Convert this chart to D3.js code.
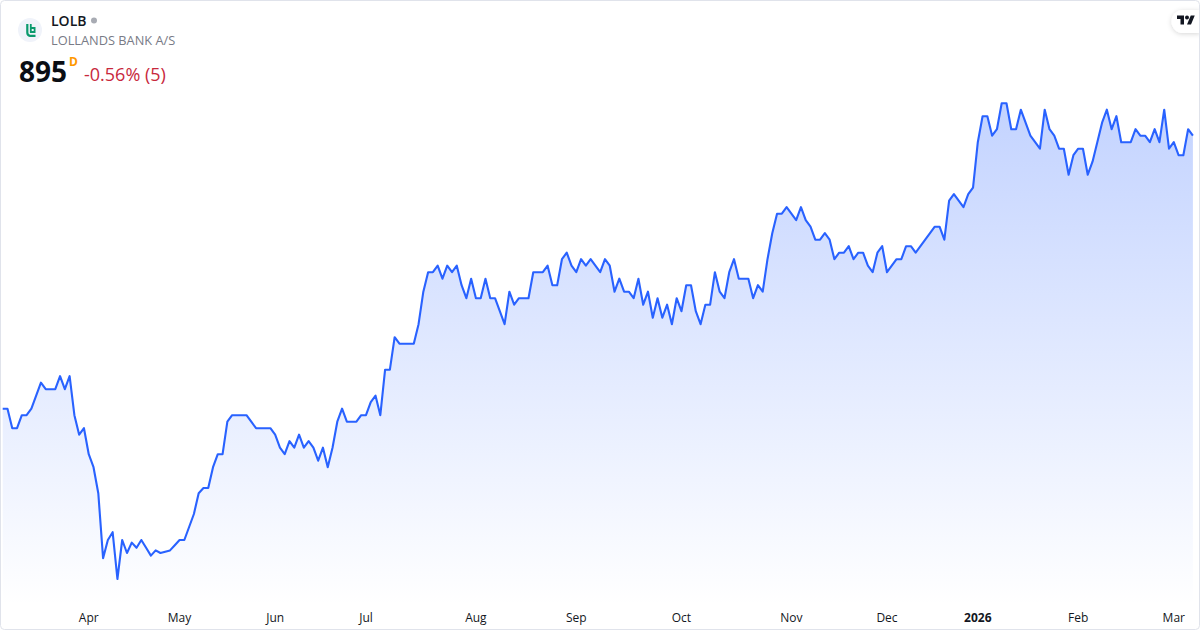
<!DOCTYPE html>
<html>
<head>
<meta charset="utf-8">
<script src="https://cdn.jsdelivr.net/npm/d3@7"></script>
<style>
html,body{margin:0;padding:0;background:#fff;overflow:hidden}
svg{display:block;font-family:"Open Sans",sans-serif}
</style>
</head>
<body>
<svg id="c" width="1200" height="630"></svg>
<script>
const prices = [
685,685,670,670,680,680,685,695,705,700,700,700,710,700,710,680,665,670,650,640,
620,570,584,590,554,584,574,582,578,584,578,572,576,574,575,576,580,584,584,594,
604,620,624,624,640,650,650,675,680,680,680,680,675,670,670,670,670,665,655,650,
660,655,665,655,660,655,645,655,640,655,675,685,675,675,675,680,680,690,695,680,
715,715,740,735,735,735,735,750,775,790,790,795,785,795,790,795,780,770,785,770,
770,785,770,770,760,750,775,765,770,770,770,790,790,790,795,780,780,800,805,795,
790,800,795,800,795,790,800,795,775,785,775,775,770,785,765,775,755,770,755,765,
750,770,760,780,780,760,750,765,765,790,775,770,790,800,785,785,785,770,780,775,
800,820,835,835,840,835,830,840,830,825,815,815,820,815,800,805,805,810,800,805,
805,795,790,805,810,790,795,800,800,810,810,805,810,815,820,825,825,815,845,850,
845,840,850,855,890,910,910,895,900,920,920,900,900,915,905,895,890,885,915,900,
895,885,885,865,880,885,885,865,875,890,905,915,900,910,890,890,890,900,895,895,
890,900,890,915,885,890,880,880,900,895];
const tickIndexes = [18,37,57,76,99,120,142,165,185,204,225,245];
const tickLabels = ["Apr","May","Jun","Jul","Aug","Sep","Oct","Nov","Dec","2026","Feb","Mar"];
const symbol = "LOLB";
const companyName = "LOLLANDS BANK A/S";
const lastPrice = "895";
const changeText = "-0.56% (5)";

const svg = d3.select("#c");
const x = d3.scaleLinear().domain([0, prices.length - 1]).range([2.7, 1192.9]);
const y = d3.scaleLinear().domain([554, 920]).range([579, 103.2]);
const baseY = 606;

const defs = svg.append("defs");
const grad = defs.append("linearGradient").attr("id","fill")
  .attr("gradientUnits","userSpaceOnUse").attr("x1",0).attr("x2",0).attr("y1",102).attr("y2",baseY);
grad.append("stop").attr("offset",0).attr("stop-color","#2962FF").attr("stop-opacity",0.28);
grad.append("stop").attr("offset",1).attr("stop-color","#2962FF").attr("stop-opacity",0);
const sh = defs.append("filter").attr("id","sh").attr("x","-30%").attr("y","-50%").attr("width","160%").attr("height","220%");
sh.append("feDropShadow").attr("dx",0).attr("dy",1).attr("stdDeviation",2.5).attr("flood-color","#000").attr("flood-opacity",0.16);

svg.append("path").datum(prices)
  .attr("fill","url(#fill)")
  .attr("d", d3.area().x((d,i)=>x(i)).y0(baseY).y1(d=>y(d)));
svg.append("path").datum(prices)
  .attr("fill","none").attr("stroke","#2962FF").attr("stroke-width",2.1).attr("stroke-linejoin","round")
  .attr("d", d3.line().x((d,i)=>x(i)).y(d=>y(d)));

const axis = d3.axisBottom(x).tickValues(tickIndexes)
  .tickFormat((d,i)=>tickLabels[i]).tickSize(0).tickPadding(0);
const ax = svg.append("g").attr("transform","translate(-0.5,618)").call(axis);
ax.select(".domain").remove();
ax.selectAll("text").attr("y",0).attr("dy","0.32em")
  .attr("font-family",'"Open Sans",sans-serif').attr("font-size",12)
  .attr("fill","#131722")
  .attr("font-weight",(d,i)=>tickLabels[i]==="2026"?700:400);

// header
svg.append("circle").attr("cx",30).attr("cy",30).attr("r",12).attr("fill","#f0f3fa");
svg.append("path").attr("d","M27.3 24V32.5Q27.3 35.5 30 35.8H35.5").attr("fill","none").attr("stroke","#0b9a6d").attr("stroke-width",2.2);
svg.append("path").attr("d","M30.8 24V32H34.6V28H30.8").attr("fill","none").attr("stroke","#0b9a6d").attr("stroke-width",1.8);
svg.append("text").attr("x",51).attr("y",25.5).attr("font-size",14).attr("font-weight",600).attr("fill","#131722").text(symbol);
svg.append("circle").attr("cx",94).attr("cy",20.5).attr("r",3).attr("fill","#a8abb3");
svg.append("text").attr("x",51).attr("y",45).attr("font-size",12.8).attr("fill","#787b86").text(companyName);
svg.append("text").attr("x",19).attr("y",82).attr("font-size",28).attr("font-weight",700).attr("fill","#0b0e14").text(lastPrice);
svg.append("text").attr("x",69).attr("y",66).attr("font-size",12).attr("font-weight",700).attr("fill","#ff9800").text("D");
svg.append("text").attr("x",84).attr("y",81).attr("font-size",18).attr("fill","#c8283c").text(changeText);

// watermark pill
svg.append("path").attr("d","M1200 10H1183A11.5 11.5 0 0 0 1183 33H1200Z").attr("fill","#fff").attr("filter","url(#sh)");
svg.append("g").attr("transform","translate(1177,13.5) scale(0.5)").attr("fill","#131722").call(g=>{
  g.append("path").attr("d","M14 22H7V11H0V4h14v18zM28 22h-8l7.5-18h8L28 22z");
  g.append("circle").attr("cx",20).attr("cy",8).attr("r",4);
});

// frame
svg.append("rect").attr("x",0.5).attr("y",0.5).attr("width",1199).attr("height",629).attr("rx",4)
  .attr("fill","none").attr("stroke","#e0e3eb");
</script>
</body>
</html>
